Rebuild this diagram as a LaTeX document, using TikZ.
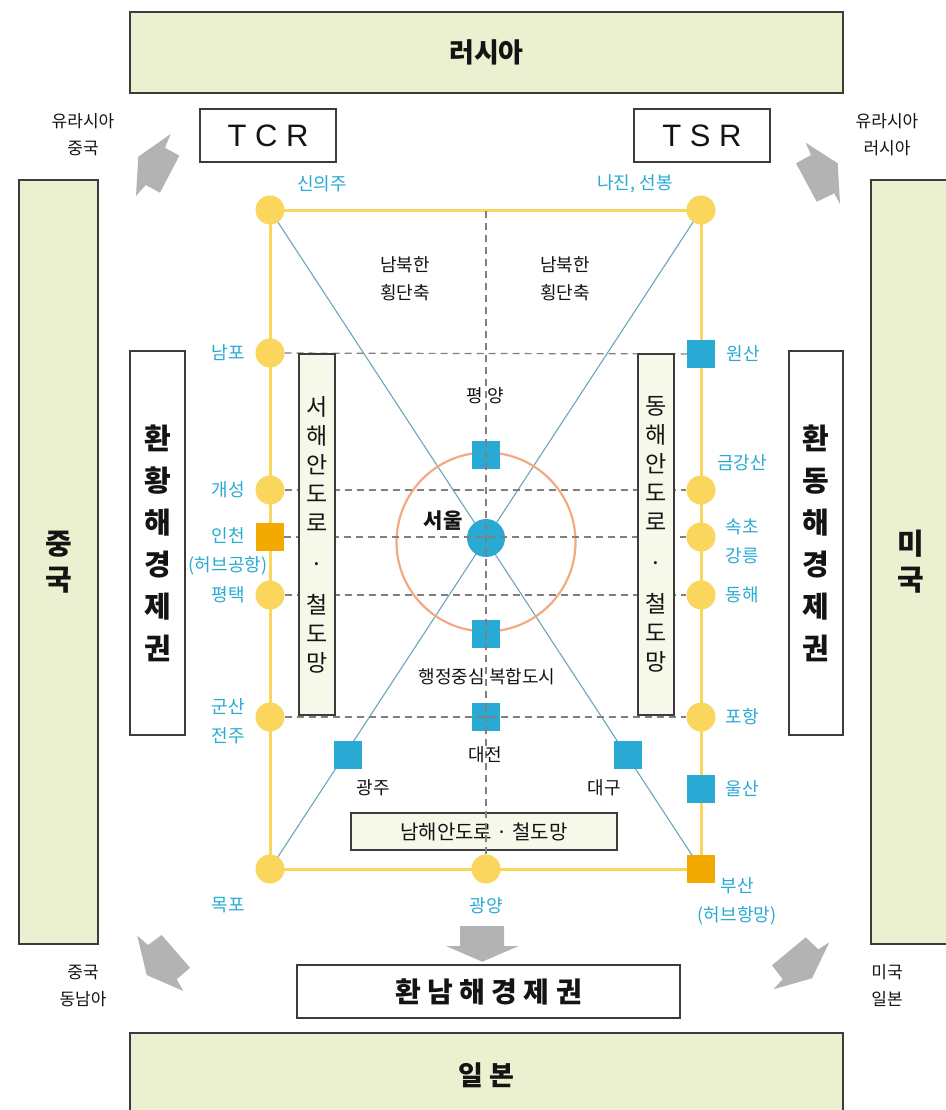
\documentclass[tikz,border=0pt]{standalone}
\usepackage{fontspec}
\setmainfont{Noto Sans CJK KR}
\newfontfamily\latinfont{Liberation Sans}
\usetikzlibrary{backgrounds}
\newcommand\myfs[2]{\fontsize{#1}{#2}\selectfont}
\definecolor{regfill}{RGB}{235,241,208}
\definecolor{infill}{RGB}{246,248,233}
\definecolor{boxline}{RGB}{60,60,60}
\definecolor{yel}{RGB}{250,214,92}
\definecolor{blu}{RGB}{41,170,212}
\definecolor{orn}{RGB}{242,170,0}
\definecolor{ringc}{RGB}{244,170,128}
\definecolor{diagc}{RGB}{110,165,185}
\definecolor{dashc}{RGB}{128,128,128}
\definecolor{arrg}{RGB}{179,179,179}
\definecolor{ink}{RGB}{20,20,20}
\begin{document}
\begin{tikzpicture}[x=1pt,y=-1pt,
  region/.style={draw=boxline, fill=regfill, line width=1.3pt, inner sep=0pt, text=ink},
  inbox/.style={draw=boxline, fill=infill, line width=1.3pt, inner sep=0pt, text=ink},
  wbox/.style={draw=boxline, fill=white, line width=1.3pt, inner sep=0pt, text=ink},
  ycirc/.style={circle, fill=yel, minimum size=29pt, inner sep=0pt},
  bsq/.style={rectangle, fill=blu, minimum size=28pt, inner sep=0pt},
  osq/.style={rectangle, fill=orn, minimum size=28pt, inner sep=0pt},
  blab/.style={text=blu, font=\myfs{18}{29}, align=center, inner sep=0pt},
  klab/.style={text=ink, font=\myfs{18}{28}, align=center, inner sep=0pt},
  yline/.style={draw=yel, line width=3pt},
  dline/.style={draw=dashc, line width=1.2pt, dash pattern=on 7pt off 5pt},
  dgline/.style={draw=diagc, line width=1.1pt},
  garrow/.style={fill=arrg},
]
\begin{scope}[on background layer]
\fill[white] (0,0) rectangle (945,1110);
\end{scope}
\useasboundingbox (0,0) rectangle (945,1110);

% stations
\node[ycirc] (sinuiju) at (270,210) {};
\node[ycirc] (nampo) at (270,353) {};
\node[ycirc] (gaesong) at (270,490) {};
\node[osq] (incheon) at (270,537) {};
\node[ycirc] (pyeongtaek) at (270,595) {};
\node[ycirc] (gunsan) at (270,717) {};
\node[ycirc] (mokpo) at (270,869) {};
\node[ycirc] (najin) at (701,210) {};
\node[bsq] (wonsan) at (701,354) {};
\node[ycirc] (geumgang) at (701,490) {};
\node[ycirc] (sokcho) at (701,537) {};
\node[ycirc] (donghae) at (701,595) {};
\node[ycirc] (pohang) at (701,717) {};
\node[bsq] (ulsan) at (701,789) {};
\node[osq] (busan) at (701,869) {};
\node[ycirc] (gwangyang) at (486,869) {};
\node[circle, fill=blu, minimum size=38pt, inner sep=0pt] (seoul) at (486,538) {};
\node[bsq] (pyongyang) at (486,455) {};
\node[bsq] (sejong) at (486,634) {};
\node[bsq] (daejeon) at (486,717) {};
\node[bsq] (gwangju) at (348,755) {};
\node[bsq] (daegu) at (628,755) {};
\coordinate (topmid) at (486,211);

\begin{scope}[on background layer]
\draw[dgline] (sinuiju.center) -- (busan.center);
\draw[dgline] (najin.center) -- (mokpo.center);
\draw[yline] (sinuiju.center) -- (najin.center) -- (busan.center) -- (mokpo.center) -- cycle;
\draw[draw=ringc, line width=2.2pt] (486,542) circle[radius=89.5pt];
\end{scope}

% dashed cross lines
\draw[dline] (nampo) -- (wonsan);
\draw[dline] (gaesong) -- (geumgang);
\draw[dline] (incheon) -- (sokcho);
\draw[dline] (pyeongtaek) -- (donghae);
\draw[dline] (gunsan) -- (pohang);

% region boxes
\node[region, minimum width=713pt, minimum height=81pt, font=\bfseries\myfs{27}{30}] (russia) at (486.5,52.5) {러시아};
\node[region, minimum width=713pt, minimum height=85pt, font=\bfseries\myfs{27}{30}] (japan) at (486.5,1075.5) {일 본};
\node[region, minimum width=79pt, minimum height=764pt, align=center, font=\bfseries\myfs{29}{36}] (china) at (58.5,562) {중\\국};
\node[region, minimum width=80pt, minimum height=764pt, align=center, font=\bfseries\myfs{29}{36}] (usa) at (911,562) {미\\국};
\node[wbox, minimum width=136pt, minimum height=53pt, font=\latinfont\myfs{31}{34}] (tcr) at (268,135.5) {T C R};
\node[wbox, minimum width=136pt, minimum height=53pt, font=\latinfont\myfs{31}{34}] (tsr) at (702,135.5) {T S R};
\node[wbox, minimum width=55pt, minimum height=384pt, align=center, font=\bfseries\myfs{29}{42}] (yellowsea) at (157.5,543) {환\\황\\해\\경\\제\\권};
\node[wbox, minimum width=54pt, minimum height=384pt, align=center, font=\bfseries\myfs{29}{42}] (eastsea) at (816,543) {환\\동\\해\\경\\제\\권};
\node[wbox, minimum width=383pt, minimum height=53pt, font=\bfseries\myfs{28}{30}] (southsea) at (488.5,991.5) {환 남 해 경 제 권};
\node[inbox, minimum width=36pt, minimum height=361pt, align=center, font=\myfs{23}{29}] (westroad) at (317,534.5) {서\\해\\안\\도\\로\\[12pt]·\\[12pt]철\\도\\망};
\node[inbox, minimum width=36pt, minimum height=361pt, align=center, font=\myfs{23}{29}] (eastroad) at (656,534.5) {동\\해\\안\\도\\로\\[12pt]·\\[12pt]철\\도\\망};
\node[inbox, minimum width=266pt, minimum height=37pt, font=\myfs{20}{24}] (southroad) at (484,831.5) {남해안도로 · 철도망};

\draw[dline] (topmid) -- (gwangyang);

% gray arrows
\fill[garrow] (138.3,156.7) -- (170.7,134) -- (165,147.7) -- (179.3,155.7) -- (160,192.7) -- (145.7,185) -- (136,196) -- cycle;
\fill[garrow] (805.7,142.7) -- (837.7,163.3) -- (840,204) -- (834.3,193.3) -- (816.7,201.7) -- (796,163.3) -- (811,155) -- cycle;
\fill[garrow] (137.3,935.7) -- (148,945) -- (161.7,935) -- (190,967.7) -- (176.7,979.3) -- (183.3,991) -- (146.7,975) -- cycle;
\fill[garrow] (772,965.3) -- (805.7,937.3) -- (818.3,949.3) -- (829.3,942.3) -- (812,978.3) -- (773.3,989.3) -- (782.7,979.3) -- cycle;
\fill[garrow] (460,926) -- (504,926) -- (504,946) -- (518.7,946) -- (482.3,961.7) -- (446,946) -- (460,946) -- cycle;

% blue place labels
\node[blab] (l-sinuiju) at (322,184) {신의주};
\node[blab] (l-najin) at (635,184) {나진, 선봉};
\node[blab] (l-nampo) at (228,353) {남포};
\node[blab] (l-gaesong) at (228,490) {개성};
\node[blab] (l-incheon) at (228,551.5) {인천\\(허브공항)};
\node[blab] (l-pyeongtaek) at (228,595) {평택};
\node[blab] (l-gunsan) at (228,721) {군산\\전주};
\node[blab] (l-mokpo) at (228,905) {목포};
\node[blab] (l-wonsan) at (743,354) {원산};
\node[blab] (l-geumgang) at (742,463) {금강산};
\node[blab] (l-sokcho) at (742,541.5) {속초\\강릉};
\node[blab] (l-donghae) at (742,595) {동해};
\node[blab] (l-pohang) at (742,717) {포항};
\node[blab] (l-ulsan) at (742,789) {울산};
\node[blab] (l-busan) at (737,901.5) {부산\\(허브항망)};
\node[blab] (l-gwangyang) at (486,906) {광양};

% black labels
\node[klab] (axis1) at (405,279) {남북한\\횡단축};
\node[klab] (axis2) at (565,279) {남북한\\횡단축};
\node[klab] (l-pyongyang) at (485,396) {평 양};
\node[klab, font=\bfseries\myfs{21}{24}] (l-seoul) at (443,521) {서울};
\node[klab] (l-sejong) at (487,677) {행정중심 복합도시};
\node[klab] (l-daejeon) at (485,755) {대전};
\node[klab] (l-gwangju) at (373,788) {광주};
\node[klab] (l-daegu) at (604,788) {대구};
\node[klab, font=\myfs{17}{27}] (c-nw) at (83,135) {유라시아\\중국};
\node[klab, font=\myfs{17}{27}] (c-ne) at (887,135) {유라시아\\러시아};
\node[klab, font=\myfs{17}{27}] (c-sw) at (83,986) {중국\\동남아};
\node[klab, font=\myfs{17}{27}] (c-se) at (887,986) {미국\\일본};
\end{tikzpicture}
\end{document}
